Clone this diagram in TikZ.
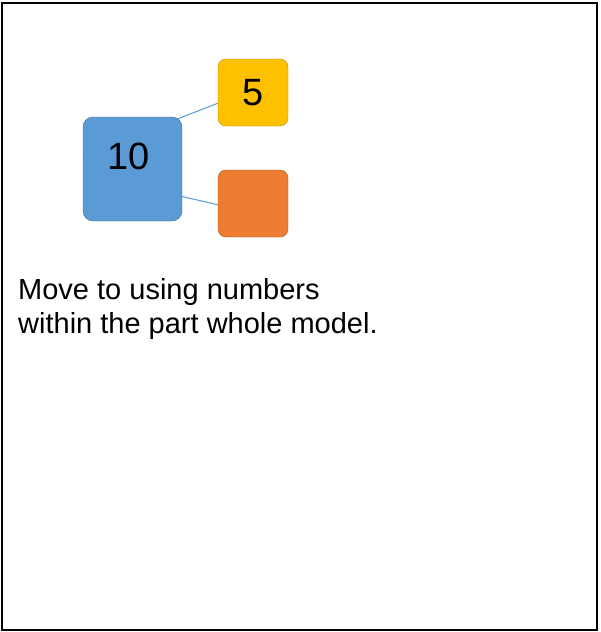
\documentclass[tikz,border=0pt]{standalone}
\usepackage{fontspec}
\setmainfont{Liberation Sans}
\usetikzlibrary{backgrounds}
\definecolor{partblue}{RGB}{91,155,213}
\definecolor{partblueedge}{RGB}{65,113,156}
\definecolor{partgold}{RGB}{255,192,0}
\definecolor{partgoldedge}{RGB}{188,140,0}
\definecolor{partorange}{RGB}{237,125,49}
\definecolor{partorangeedge}{RGB}{174,90,33}
\tikzset{
  whole/.style={draw=partblueedge,fill=partblue,rounded corners=10pt,
    minimum width=99pt,minimum height=104pt,inner sep=0pt,
    text height=13pt,text depth=13pt,font=\fontsize{38}{38}\selectfont}}
\tikzset{
  part/.style={draw=#1edge,fill=#1,rounded corners=8pt,
    minimum width=70pt,minimum height=67pt,inner sep=0pt,
    font=\fontsize{38}{38}\selectfont}}
\tikzset{
  link/.style={draw=partblue,line width=1pt}}

\begin{document}
\begin{tikzpicture}[x=1pt,y=-1pt]
    \useasboundingbox (0,0) rectangle (600,632);
    \draw[line width=2pt] (2,3) rectangle (597,630);
    \node[whole] (ten) at (132.5,169) {10\hspace*{8pt}};
    \node[part=partgold] (five) at (253,92.5) {5};
    \node[part=partorange] (blank) at (253,203.5) {};
    % links run behind the whole
    \begin{scope}[on background layer]
        \draw[link] (five.197) -- (ten.165.7);
        \draw[link] (blank.182.5) -- (ten.-29.5);
    \end{scope}
    \node[anchor=north west,inner sep=0pt,align=left,font=\fontsize{29}{34}\selectfont]
        (note) at (18,278) {Move to using numbers\\within the part whole model.};
\end{tikzpicture}
\end{document}
